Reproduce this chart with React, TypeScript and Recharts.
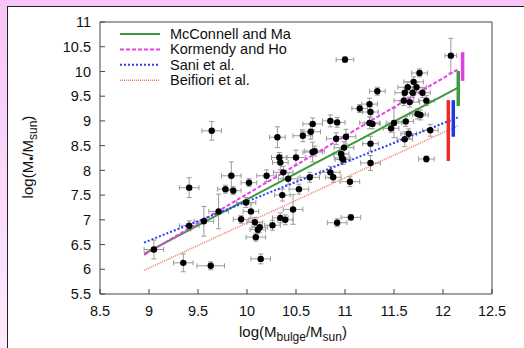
import React from "react";
import { ComposedChart, Scatter, XAxis, YAxis, ErrorBar } from "recharts";

const xTicks = [8.5, 9, 9.5, 10, 10.5, 11, 11.5, 12, 12.5];
const yTicks = [5.5, 6, 6.5, 7, 7.5, 8, 8.5, 9, 9.5, 10, 10.5, 11];

// galaxies: bulge mass vs black hole mass, with errors
const galaxyX = [
  9.05, 9.35, 9.41, 9.41, 9.56, 9.63, 9.64, 9.71, 9.78, 9.84, 9.86, 9.94, 9.99, 10.02, 10.04, 10.08,
  10.09, 10.11, 10.13, 10.14, 10.2, 10.26, 10.31, 10.33, 10.34, 10.34, 10.36, 10.37, 10.39, 10.42,
  10.47, 10.5, 10.53, 10.57, 10.65, 10.64, 10.67, 10.67, 10.69, 10.85, 10.85, 10.88, 10.92, 10.92,
  10.91, 10.96, 10.97, 10.98, 10.99, 11.01, 11.0, 11.05, 11.06, 11.15, 11.25, 11.26, 11.25, 11.28,
  11.26, 11.26, 11.33, 11.47, 11.5, 11.61, 11.6, 11.61, 11.62, 11.64, 11.66, 11.65, 11.69, 11.7,
  11.73, 11.74, 11.76, 11.77, 11.79, 11.83, 11.83, 11.87, 12.08,
];
const galaxyY = [
  6.4, 6.13, 7.65, 6.88, 6.97, 6.07, 8.8, 7.17, 7.62, 7.89, 7.59, 7.01, 7.35, 7.75, 7.17, 6.95,
  6.65, 6.8, 6.85, 6.21, 7.89, 6.89, 8.67, 8.26, 8.16, 7.04, 7.5, 7.96, 7.0, 7.83,
  7.21, 8.26, 7.62, 8.7, 8.78, 7.86, 8.94, 8.37, 8.39, 9.0, 7.96, 7.86, 8.97, 6.94,
  8.64, 8.33, 8.25, 8.22, 8.46, 8.68, 10.24, 7.77, 7.05, 9.25, 9.34, 9.18, 8.96, 8.94,
  8.54, 8.15, 9.6, 8.85, 8.96, 9.57, 9.41, 8.63, 8.99, 9.68, 9.38, 8.74, 9.57, 9.79,
  9.68, 9.14, 9.97, 9.12, 9.57, 9.41, 8.23, 8.81, 10.32,
];
const errX = [
  0.1, 0.1, 0.1, 0.1, 0.1, 0.14, 0.1, 0.1, 0.08, 0.1, 0.08, 0.08, 0.1, 0.08, 0.08, 0.08,
  0.1, 0.08, 0.08, 0.1, 0.1, 0.08, 0.08, 0.08, 0.08, 0.08, 0.08, 0.1, 0.08, 0.1,
  0.1, 0.1, 0.1, 0.1, 0.1, 0.1, 0.1, 0.1, 0.1, 0.08, 0.1, 0.08, 0.08, 0.1,
  0.1, 0.08, 0.08, 0.08, 0.1, 0.1, 0.09, 0.1, 0.1, 0.08, 0.08, 0.08, 0.1, 0.08,
  0.08, 0.1, 0.08, 0.08, 0.08, 0.1, 0.1, 0.08, 0.08, 0.1, 0.1, 0.08, 0.1, 0.1,
  0.1, 0.08, 0.08, 0.08, 0.08, 0.08, 0.08, 0.08, 0.06,
];
const errY = [
  0.19, 0.18, 0.2, 0.1, 0.3, 0.08, 0.19, 0.35, 0.08, 0.28, 0.08, 0.08, 0.1, 0.08, 0.15, 0.1,
  0.08, 0.08, 0.1, 0.1, 0.12, 0.1, 0.21, 0.1, 0.15, 0.1, 0.12, 0.12, 0.1, 0.12,
  0.3, 0.15, 0.1, 0.12, 0.15, 0.1, 0.12, 0.2, 0.1, 0.12, 0.12, 0.1, 0.1, 0.08,
  0.12, 0.12, 0.1, 0.1, 0.12, 0.15, 0.06, 0.1, 0.06, 0.08, 0.12, 0.1, 0.12, 0.1,
  0.15, 0.15, 0.08, 0.08, 0.3, 0.1, 0.1, 0.15, 0.1, 0.1, 0.1, 0.1, 0.1, 0.1,
  0.1, 0.1, 0.08, 0.1, 0.1, 0.1, 0.06, 0.12, 0.35,
];

// fitted relations, read at both ends
const fitX = [8.95, 12.15];
const mcconnellY = [6.31, 9.67];
const kormendyY = [6.29, 10.04];
const saniY = [6.54, 9.07];
const beifioriY = [5.98, 8.9];

// intrinsic scatter bars at the right
const barX = [12.054, 12.105, 12.156, 12.2];
const barLow = [8.19, 8.68, 9.3, 9.81];
const barHigh = [9.42, 9.42, 10.01, 10.39];

const FONT = "'Liberation Sans', Arial, Helvetica, sans-serif";
const GREEN = "#3c9a3c";
const MAGENTA = "#ee3cee";
const BLUE = "#2a3cf0";
const SALMON = "#f07a6a";
const barColors = ["#ee2a2a", "#1a3ae0", GREEN, "#e040e0"];

const points = galaxyX.map((x, i) => ({ x, y: galaxyY[i], ex: errX[i], ey: errY[i] }));
const toLine = (ys: number[]) => fitX.map((x, i) => ({ x, y: ys[i] }));

const fits = [
  { name: "McConnell and Ma", data: toLine(mcconnellY), stroke: GREEN, width: 2, dash: undefined },
  { name: "Kormendy and Ho", data: toLine(kormendyY), stroke: MAGENTA, width: 2, dash: "4 2" },
  { name: "Sani et al.", data: toLine(saniY), stroke: BLUE, width: 2, dash: "2 2" },
  { name: "Beifiori et al.", data: toLine(beifioriY), stroke: SALMON, width: 1.5, dash: "1 1" },
];

const Dot = (props: any) => <circle cx={props.cx} cy={props.cy} r={3.2} fill="#000" />;
const NoDot = () => <g />;

const tickStyle = { fontSize: 14.5, fill: "#111", fontFamily: FONT };

function XTitle({ viewBox }: any) {
  const cx = viewBox.x + viewBox.width / 2 - 3;
  const y = 337;
  return (
    <text x={cx} y={y} textAnchor="middle" fontSize={15} fill="#111" fontFamily={FONT}>
      log(M<tspan fontSize={12} dy={4}>bulge</tspan>
      <tspan dy={-4}>/M</tspan>
      <tspan fontSize={12} dy={4}>sun</tspan>
      <tspan dy={-4}>)</tspan>
    </text>
  );
}

function YTitle() {
  return (
    <text
      x={0}
      y={0}
      transform="translate(33,157) rotate(-90)"
      textAnchor="middle"
      fontSize={15}
      fill="#111"
      fontFamily={FONT}
    >
      log(M<tspan fontSize={12} dy={3}>•</tspan>
      <tspan dy={-3}>/M</tspan>
      <tspan fontSize={12} dy={4}>sun</tspan>
      <tspan dy={-4}>)</tspan>
    </text>
  );
}

export default function App() {
  return (
    <div
      style={{
        position: "absolute",
        left: 0,
        top: 0,
        width: 524,
        height: 348,
        overflow: "hidden",
        background: "#f8c5f8",
        fontFamily: FONT,
      }}
    >
      <div
        style={{
          position: "absolute",
          left: 0,
          top: 6,
          width: 7,
          height: 342,
          background: "linear-gradient(#f8c5f8, #fcebfc)",
        }}
      />
      <div
        style={{
          position: "absolute",
          left: 7,
          top: 6,
          width: 517,
          height: 342,
          background: "#fff",
          borderLeft: "1px solid #222",
          borderTop: "1px solid #222",
        }}
      />
      <div style={{ position: "absolute", left: 0, top: 0 }}>
        <ComposedChart width={524} height={348} margin={{ top: 21, right: 31, bottom: 24, left: 0 }}>
          <XAxis
            type="number"
            dataKey="x"
            domain={[8.5, 12.5]}
            ticks={xTicks}
            interval={0}
            height={30}
            tickSize={-5}
            tickMargin={17}
            tick={tickStyle}
            stroke="#444"
            label={<XTitle />}
          />
          <XAxis
            xAxisId="top"
            orientation="top"
            type="number"
            dataKey="x"
            domain={[8.5, 12.5]}
            ticks={xTicks}
            interval={0}
            height={1}
            tickSize={-5}
            tick={false}
            stroke="#444"
          />
          <YAxis
            type="number"
            dataKey="y"
            domain={[5.5, 11]}
            ticks={yTicks}
            interval={0}
            width={100}
            tickSize={-5}
            tickMargin={14}
            tick={tickStyle}
            stroke="#444"
            label={<YTitle />}
          />
          <YAxis
            yAxisId="right"
            orientation="right"
            type="number"
            dataKey="y"
            domain={[5.5, 11]}
            ticks={yTicks}
            interval={0}
            width={1}
            tickSize={-5}
            tick={false}
            stroke="#444"
          />
          {fits.map((f) => (
            <Scatter
              key={f.name}
              name={f.name}
              data={f.data}
              line={{ stroke: f.stroke, strokeWidth: f.width, strokeDasharray: f.dash }}
              shape={NoDot}
              legendType="none"
              isAnimationActive={false}
            />
          ))}
          {barX.map((x, i) => (
            <Scatter
              key={"bar" + i}
              data={[
                { x, y: barLow[i] },
                { x, y: barHigh[i] },
              ]}
              line={{ stroke: barColors[i], strokeWidth: 3.5 }}
              shape={NoDot}
              legendType="none"
              isAnimationActive={false}
            />
          ))}
          <Scatter data={points} shape={Dot} isAnimationActive={false}>
            <ErrorBar dataKey="ex" direction="x" width={2.5} stroke="#9a9a9a" strokeWidth={1} />
            <ErrorBar dataKey="ey" direction="y" width={2.5} stroke="#9a9a9a" strokeWidth={1} />
          </Scatter>
        </ComposedChart>
      </div>
      <div style={{ position: "absolute", left: 118, top: 26 }}>
        <svg width={260} height={64}>
          {fits.map((f, i) => (
            <g key={f.name}>
              <line
                x1={2}
                x2={42}
                y1={8 + i * 15.4}
                y2={8 + i * 15.4}
                stroke={f.stroke}
                strokeWidth={f.width}
                strokeDasharray={f.dash}
              />
              <text x={52} y={8 + i * 15.4 + 5} fontSize={14.5} fill="#111" fontFamily={FONT}>
                {f.name}
              </text>
            </g>
          ))}
        </svg>
      </div>
    </div>
  );
}
